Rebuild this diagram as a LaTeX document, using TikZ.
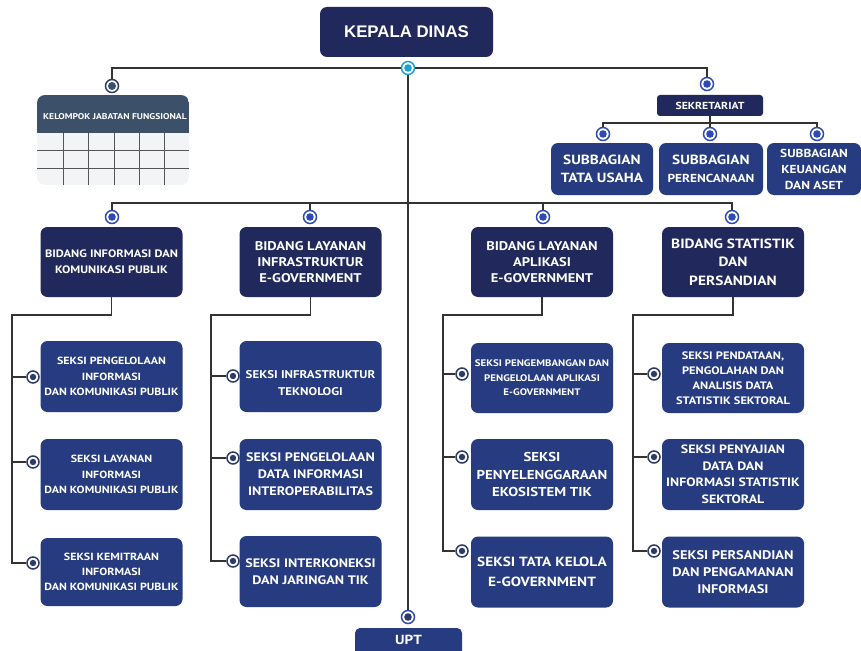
\documentclass[tikz,border=0pt]{standalone}
\usepackage{fontspec}
\setmainfont{PT Sans}[FakeStretch=1.15]
\newfontfamily\headfont{Liberation Sans}
\newcommand{\boxfont}[2]{\fontsize{#1}{#2}\selectfont\bfseries}
\definecolor{navy}{HTML}{21295C}
\definecolor{royal}{HTML}{263B80}
\definecolor{slate}{HTML}{3C5069}
\definecolor{tablegray}{HTML}{F3F4F6}
\definecolor{gridgray}{HTML}{555555}
\definecolor{ringblue}{HTML}{2D4BB2}
\definecolor{ringnavy}{HTML}{2C3A6C}
\definecolor{cyanring}{HTML}{1DA1D2}
\definecolor{wiregray}{HTML}{333333}
\tikzset{
  orgbox/.style = {rounded corners = 7pt, text = white, align = center, inner sep = 0pt},
  kepalabox/.style = {orgbox, fill = navy, minimum width = 173pt, minimum height = 50pt},
  bidangbox/.style = {orgbox, fill = navy, minimum width = 142pt, minimum height = 70pt, font = \boxfont{12.6}{16}},
  seksibox/.style = {orgbox, fill = royal, minimum width = 142pt, minimum height = 71pt},
  subbox/.style = {orgbox, fill = royal, minimum height = 52pt, font = \boxfont{13.3}{18}},
  topdot/.style = {circle, draw = ringblue, fill = white, line width = 1.5pt, minimum size = 13pt, inner sep = 0pt,
    path picture = {\fill[ringblue] (path picture bounding box.center) circle (3.8pt);}},
  sidedot/.style = {circle, draw = ringnavy, fill = white, line width = 1.5pt, minimum size = 12pt, inner sep = 0pt,
    path picture = {\fill[ringnavy] (path picture bounding box.center) circle (3.2pt);}},
  maindot/.style = {circle, draw = cyanring, fill = white, line width = 1.5pt, minimum size = 13pt, inner sep = 0pt,
    path picture = {\fill[cyanring] (path picture bounding box.center) circle (3.8pt);}},
  wire/.style = {draw = wiregray, line width = 1.4pt}
}
\begin{document}
\begin{tikzpicture}[x = 1pt, y = -1pt]
\useasboundingbox (0,0) rectangle (861,650);
% kepala dinas
\node[kepalabox, font = \headfont\fontsize{16.8}{18}\selectfont\bfseries] (kepala) at (406.5,32) {KEPALA DINAS};
\node[maindot] (kepaladot) at (408,68) {};
% kelompok jabatan fungsional
\begin{scope}
\clip[rounded corners = 8pt] (37,95) rectangle (189,185);
\fill[tablegray] (37,95) rectangle (189,185);
\fill[slate] (37,95) rectangle (189,133);
\draw[gridgray, line width = 1pt] (37,150) -- (189,150) (37,168) -- (189,168);
\draw[gridgray, line width = 1pt] (63,133) -- (63,185) (88,133) -- (88,185) (114,133) -- (114,185)
  (139,133) -- (139,185) (164,133) -- (164,185);
\end{scope}
\node[text = white, font = \boxfont{8.4}{10}] (kjf) at (115,117) {KELOMPOK JABATAN FUNGSIONAL};
\node[topdot, draw = ringnavy, path picture = {\fill[slate] (path picture bounding box.center) circle (4pt);}] (kjfdot) at (112,86) {};
% sekretariat
\node[topdot] (sekdot) at (707,84) {};
\node[orgbox, fill = navy, rounded corners = 3pt, minimum width = 106pt, minimum height = 21pt, font = \boxfont{10.2}{11}] (sek) at (710,105.5) {SEKRETARIAT};
\coordinate (sekbar) at (710,123);
\node[topdot] (sub1dot) at (603,134) {};
\node[topdot] (sub2dot) at (710,134) {};
\node[topdot] (sub3dot) at (817,134) {};
\node[subbox, minimum width = 102pt] (sub1) at (602,169) {SUBBAGIAN\\TATA USAHA};
\node[subbox, minimum width = 104pt] (sub2) at (711,169) {SUBBAGIAN\\{\fontsize{11.6}{18}\selectfont PERENCANAAN}};
\node[subbox, minimum width = 94pt, font = \boxfont{11.6}{16}] (sub3) at (814,169) {SUBBAGIAN\\KEUANGAN\\DAN ASET};
% bidang
\coordinate (bidbar) at (408,203);
\node[topdot] (bid1dot) at (112,217) {};
\node[topdot] (bid2dot) at (310,217) {};
\node[topdot] (bid3dot) at (543,217) {};
\node[topdot] (bid4dot) at (732,217) {};
\node[bidangbox, font = \boxfont{10.8}{16}] (bid1) at (111.5,262) {BIDANG INFORMASI DAN\\KOMUNIKASI PUBLIK};
\node[bidangbox] (bid2) at (310.5,262) {BIDANG LAYANAN\\INFRASTRUKTUR\\E-GOVERNMENT};
\node[bidangbox] (bid3) at (542,262) {BIDANG LAYANAN\\APLIKASI\\E-GOVERNMENT};
\node[bidangbox, font = \boxfont{13.4}{18.5}] (bid4) at (733,262) {BIDANG STATISTIK\\DAN\\PERSANDIAN};
% seksi bidang informasi dan komunikasi publik
\coordinate (bid1turn) at (12,315);
\node[sidedot] (s11dot) at (33,377) {};
\node[sidedot] (s12dot) at (33,462) {};
\node[sidedot] (s13dot) at (33,563) {};
\node[seksibox, font = \boxfont{10.4}{15.5}] (s11) at (111.5,376.5) {SEKSI PENGELOLAAN\\INFORMASI\\DAN KOMUNIKASI PUBLIK};
\node[seksibox, font = \boxfont{10.4}{15.5}] (s12) at (111.5,474.5) {SEKSI LAYANAN\\INFORMASI\\DAN KOMUNIKASI PUBLIK};
\node[seksibox, minimum height = 68pt, font = \boxfont{10.4}{15}] (s13) at (111.5,572) {SEKSI KEMITRAAN\\INFORMASI\\DAN KOMUNIKASI PUBLIK};
% seksi bidang layanan infrastruktur
\coordinate (bid2turn) at (211,315);
\node[sidedot] (s21dot) at (233,376) {};
\node[sidedot] (s22dot) at (233,458) {};
\node[sidedot] (s23dot) at (233,561) {};
\node[seksibox, font = \boxfont{11.2}{17}] (s21) at (310.5,376.5) {\rule{0pt}{21pt}SEKSI INFRASTRUKTUR\\TEKNOLOGI};
\node[seksibox, font = \boxfont{12.3}{17}] (s22) at (310.5,474.5) {SEKSI PENGELOLAAN\\DATA INFORMASI\\INTEROPERABILITAS};
\node[seksibox, font = \boxfont{12.3}{17}] (s23) at (310.5,571.5) {SEKSI INTERKONEKSI\\DAN JARINGAN TIK};
% seksi bidang layanan aplikasi
\coordinate (bid3turn) at (443,315);
\node[sidedot] (s31dot) at (462,374) {};
\node[sidedot] (s32dot) at (462,457) {};
\node[sidedot] (s33dot) at (462,551) {};
\node[seksibox, minimum height = 70pt, font = \boxfont{9.5}{14.5}] (s31) at (542,378) {SEKSI PENGEMBANGAN DAN\\PENGELOLAAN APLIKASI\\E-GOVERNMENT};
\node[seksibox, font = \boxfont{12.9}{17.5}] (s32) at (542,474.5) {SEKSI\\PENYELENGGARAAN\\EKOSISTEM TIK};
\node[seksibox, font = \boxfont{13.3}{20}] (s33) at (542,572) {SEKSI TATA KELOLA\\E-GOVERNMENT};
% seksi bidang statistik dan persandian
\coordinate (bid4turn) at (633,315);
\node[sidedot] (s41dot) at (654,374) {};
\node[sidedot] (s42dot) at (654,457) {};
\node[sidedot] (s43dot) at (654,551) {};
\node[seksibox, minimum height = 70pt, font = \boxfont{10.8}{15}] (s41) at (733,378) {SEKSI PENDATAAN,\\PENGOLAHAN DAN\\ANALISIS DATA\\STATISTIK SEKTORAL};
\node[seksibox, font = \boxfont{12.1}{16.5}] (s42) at (733,474.5) {SEKSI PENYAJIAN\\DATA DAN\\INFORMASI STATISTIK\\SEKTORAL};
\node[seksibox, font = \boxfont{12.5}{17}] (s43) at (733,572) {SEKSI PERSANDIAN\\DAN PENGAMANAN\\INFORMASI};
% upt
\node[maindot, draw = ringblue, path picture = {\fill[ringnavy] (path picture bounding box.center) circle (3.8pt);}] (uptdot) at (408,617) {};
\node[orgbox, fill = royal, rounded corners = 5pt, minimum width = 107pt, minimum height = 30pt] (upt) at (408.5,643) {};
\node[text = white, font = \boxfont{13.2}{16}] (upttext) at (408.5,640) {UPT};
% connectors
\draw[wire] (kepaladot) -| (kjfdot);
\draw[wire] (kepaladot) -| (sekdot);
\draw[wire] (kepaladot) -- (uptdot);
\draw[wire] (sek) -- (sub2dot);
\draw[wire] (sub1dot) |- (sekbar) -| (sub3dot);
\draw[wire] (bid1dot) |- (bidbar) -| (bid4dot);
\draw[wire] (bidbar) -| (bid2dot);
\draw[wire] (bidbar) -| (bid3dot);
\draw[wire] (bid1) |- (bid1turn) |- (s13dot);
\draw[wire] (bid1turn) |- (s11dot);
\draw[wire] (bid1turn) |- (s12dot);
\draw[wire] (bid2) |- (bid2turn) |- (s23dot);
\draw[wire] (bid2turn) |- (s21dot);
\draw[wire] (bid2turn) |- (s22dot);
\draw[wire] (bid3) |- (bid3turn) |- (s33dot);
\draw[wire] (bid3turn) |- (s31dot);
\draw[wire] (bid3turn) |- (s32dot);
\draw[wire] (bid4) |- (bid4turn) |- (s43dot);
\draw[wire] (bid4turn) |- (s41dot);
\draw[wire] (bid4turn) |- (s42dot);
\end{tikzpicture}
\end{document}
